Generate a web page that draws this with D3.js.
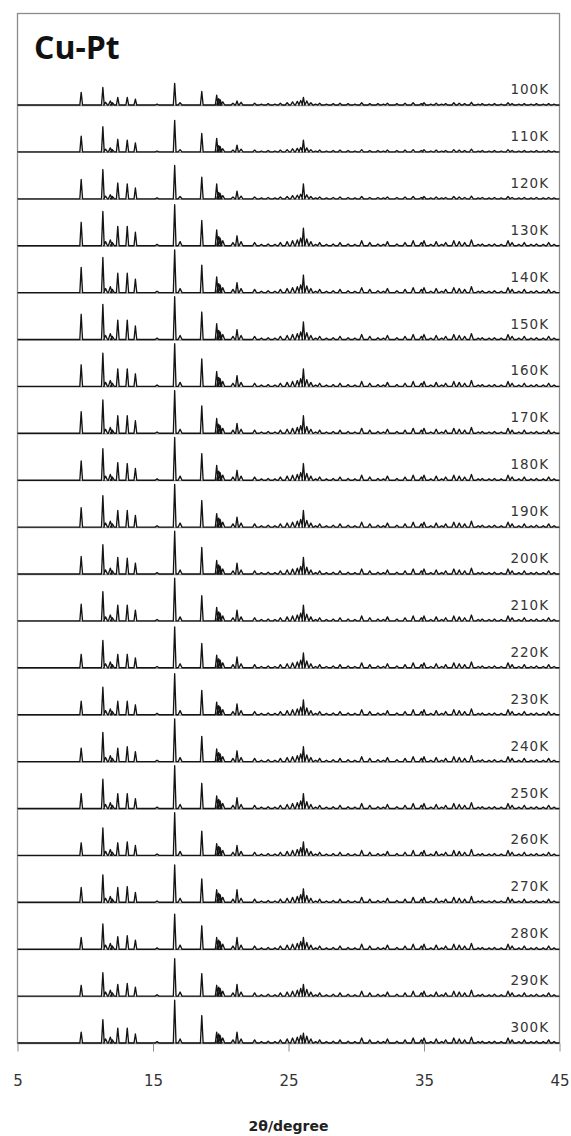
<!DOCTYPE html>
<html><head><meta charset="utf-8">
<script src="https://cdn.jsdelivr.net/npm/d3@7"></script>
<style>
html,body{margin:0;padding:0;background:#fff;}
svg{display:block;}
</style></head>
<body>
<script>
// ---------- DATA ----------
const title = "Cu-Pt";
const xLabel = "2θ/degree";
const xTicks = [5, 15, 25, 35, 45];
const temps = ["100K","110K","120K","130K","140K","150K","160K","170K","180K","190K","200K",
               "210K","220K","230K","240K","250K","260K","270K","280K","290K","300K"];

// strong reflections (2θ, degree)
const strongPos = [9.7, 11.3, 12.4, 13.1, 13.7, 16.6, 18.6, 19.7, 21.2, 26.1];
// relative intensity per temperature (100 = full panel height)
const strongH = [
  [28, 39, 17, 17, 13, 48, 30, 22,  9, 17], // 100K
  [35, 56, 28, 26, 20, 70, 41, 30, 15, 26], // 110K
  [43, 65, 35, 33, 24, 74, 48, 33, 17, 33], // 120K
  [52, 76, 43, 43, 30, 91, 56, 35, 22, 39], // 130K
  [56, 78, 43, 43, 30, 95, 61, 35, 22, 39], // 140K
  [56, 78, 43, 43, 30, 95, 61, 35, 22, 39], // 150K
  [48, 74, 39, 39, 28, 95, 61, 33, 24, 39], // 160K
  [48, 74, 39, 39, 28, 95, 61, 33, 22, 39], // 170K
  [43, 70, 39, 37, 26, 95, 59, 33, 22, 37], // 180K
  [43, 70, 37, 37, 26, 95, 59, 30, 22, 37], // 190K
  [39, 65, 37, 35, 24, 95, 59, 30, 24, 37], // 200K
  [37, 65, 35, 35, 24, 95, 56, 30, 24, 35], // 210K
  [30, 61, 30, 30, 22, 91, 54, 28, 24, 33], // 220K
  [30, 61, 30, 30, 22, 91, 54, 28, 24, 33], // 230K
  [30, 65, 30, 33, 22, 95, 56, 28, 24, 33], // 240K
  [33, 65, 33, 33, 22, 95, 56, 28, 24, 33], // 250K
  [28, 61, 28, 30, 22, 95, 54, 26, 22, 30], // 260K
  [33, 61, 33, 35, 22, 83, 52, 28, 28, 30], // 270K
  [26, 56, 28, 30, 20, 78, 52, 26, 26, 26], // 280K
  [24, 52, 26, 28, 20, 83, 50, 24, 26, 26], // 290K
  [24, 52, 33, 33, 20, 95, 61, 24, 24, 22]  // 300K
];

// weaker reflections (2θ, degree)
const minorPos = [11.5, 11.85, 12.0, 15.3, 17.0, 19.85, 19.95, 20.15, 20.9, 21.5, 22.5, 23.0, 23.5,
                  24.0, 24.4, 24.9, 25.3, 25.65, 25.9, 26.35, 26.65, 27.0, 27.3, 27.8, 28.3, 28.8,
                  29.4, 29.9, 30.4, 31.0, 31.6, 32.0, 32.3, 33.0, 33.6, 34.2, 34.8, 35.0, 35.5,
                  35.9, 36.3, 36.6, 37.2, 37.6, 38.0, 38.5, 39.0, 39.3, 39.8, 40.2, 40.7, 41.2,
                  41.5, 42.0, 42.4, 42.9, 43.3, 43.8, 44.2, 44.6];
// low temperature (100K–120K)
const minorCold = [6, 9, 5, 2, 5, 14, 12, 7, 4, 6, 4, 2, 3,
                   2, 4, 5, 7, 8, 10, 9, 5, 2, 4, 2, 3, 4,
                   3, 2, 5, 3, 3, 2, 4, 3, 4, 5, 3, 5, 2,
                   4, 2, 3, 5, 4, 3, 6, 2, 3, 2, 3, 2, 5,
                   3, 2, 3, 2, 3, 2, 3, 2];
// higher temperature (130K–300K)
const minorWarm = [9, 13, 7, 3, 9, 20, 17, 11, 7, 9, 7, 3, 4,
                   3, 7, 9, 11, 13, 17, 15, 9, 3, 7, 3, 4, 7,
                   4, 3, 11, 7, 4, 3, 9, 4, 7, 11, 7, 11, 3,
                   9, 3, 7, 11, 9, 7, 13, 3, 4, 3, 4, 3, 11,
                   7, 3, 7, 3, 4, 3, 7, 3];

// ---------- LAYOUT ----------
const W = 571, H = 1136;
const mLeft = 17.5, mRight = 559.5, mTop = 13.5;
const firstBase = 105, step = 46.9;
const mBottom = firstBase + step * (temps.length - 1);

const svg = d3.select("body").append("svg").attr("width", W).attr("height", H);

const x = d3.scaleLinear().domain([5, 45]).range([mLeft, mRight]);
const y = d3.scaleLinear().domain([0, 100]).range([0, -45]);

// frame
svg.append("rect").attr("x", mLeft).attr("y", mTop).attr("width", mRight - mLeft).attr("height", mBottom - mTop)
  .attr("fill", "none").attr("stroke", "#8c8c8c").attr("stroke-width", 1.3);

// title
svg.append("text").attr("x", 34).attr("y", 59).text(title)
  .attr("font-family", "Open Sans, sans-serif").attr("font-weight", 700)
  .attr("font-size", 32).attr("fill", "#111");

const wStrong = 0.1, wMinor = 0.14;
const line = d3.line().x(d => x(d[0])).y(d => y(d[1]));

temps.forEach((t, i) => {
  const base = firstBase + step * i;
  const g = svg.append("g").attr("transform", `translate(0,${base})`);
  g.append("line").attr("x1", mLeft).attr("x2", mRight).attr("y1", 0.5).attr("y2", 0.5)
    .attr("stroke", "#9a9a9a").attr("stroke-width", 1.3);
  const minor = i < 3 ? minorCold : minorWarm;
  const peaks = strongPos.map((p, k) => [p, strongH[i][k], wStrong])
    .concat(minorPos.map((p, k) => [p, minor[k], wMinor]))
    .sort((a, b) => a[0] - b[0]);
  const pts = [[5, 0]];
  peaks.forEach(([p, h, w]) => { pts.push([p - w, 0], [p, h], [p + w, 0]); });
  pts.push([45, 0]);
  g.append("path").attr("d", line(pts)).attr("fill", "none")
    .attr("stroke", "#141414").attr("stroke-width", 1.35).attr("stroke-linejoin", "round");
  g.append("text").attr("x", 549).attr("y", -11).attr("text-anchor", "end")
    .attr("font-family", "DejaVu Sans, sans-serif").attr("font-size", 13.5)
    .attr("letter-spacing", 1).attr("fill", "#353535").text(t);
});

// x axis
const ax = svg.append("g").attr("transform", `translate(0,${mBottom + 0.5})`)
  .call(d3.axisBottom(x).tickValues(xTicks).tickFormat(d3.format("d")).tickSize(8).tickPadding(24));
ax.select(".domain").remove();
ax.selectAll(".tick line").attr("stroke", "#8c8c8c");
ax.selectAll(".tick text").attr("font-family", "DejaVu Sans, sans-serif").attr("font-size", 15).attr("fill", "#333");

svg.append("text").attr("x", (mLeft + mRight) / 2).attr("y", 1131).attr("text-anchor", "middle")
  .attr("font-family", "DejaVu Sans, sans-serif").attr("font-weight", 700).attr("font-size", 14)
  .attr("fill", "#222").text(xLabel);
</script>
</body></html>
